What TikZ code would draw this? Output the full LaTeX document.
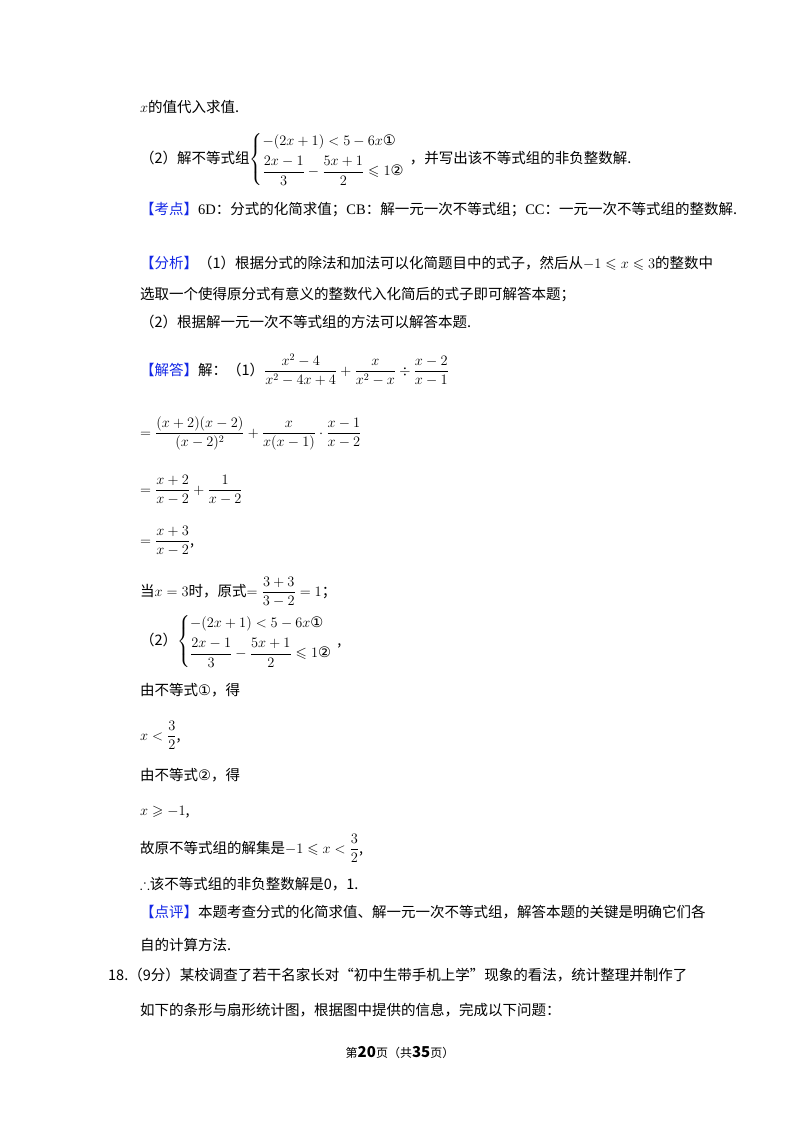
\documentclass[tikz,border=0pt]{standalone}
\usepackage{amsmath,amssymb}
\usepackage[no-math]{fontspec}
\setmainfont{Noto Sans CJK SC}
\newfontfamily\lat{Liberation Serif}
\newfontfamily\sym{DejaVu Sans}
\definecolor{kblue}{RGB}{20,40,230}
\newcommand\cA{{\sym ①}}
\newcommand\cB{{\sym ②}}
\begin{document}
\begin{tikzpicture}[x=1pt,y=-1pt,
  t/.style={anchor=base west,inner sep=0pt,font=\fontsize{14.5}{17}\selectfont},
  kw/.style={text=kblue}]
\useasboundingbox (0,0) rectangle (800,1132);
\fill[white] (0,0) rectangle (800,1132);
\node[t] (l1) at (140,112) {$x$的值代入求值.};
\node[t] (l2) at (140,163) {（2）解不等式组$\left\{\begin{array}{@{}l}-(2x+1)<5-6x\text{\cA}\\[6pt] \dfrac{2x-1}{3}-\dfrac{5x+1}{2}\leqslant 1\text{\cB}\end{array}\right.$，并写出该不等式组的非负整数解.};
\node[t] (l3) at (140,214) {\textcolor{kblue}{【考点】}{\lat 6D}：分式的化简求值；{\lat CB}：解一元一次不等式组；{\lat CC}：一元一次不等式组的整数解.};
\node[t] (l4) at (140,268) {\textcolor{kblue}{【分析】}（1）根据分式的除法和加法可以化简题目中的式子，然后从$-1\leqslant x\leqslant 3$的整数中};
\node[t] (l5) at (140,299) {选取一个使得原分式有意义的整数代入化简后的式子即可解答本题；};
\node[t] (l6) at (140,327) {（2）根据解一元一次不等式组的方法可以解答本题.};
\node[t] (l7) at (140,375) {\textcolor{kblue}{【解答】}解：（1）$\dfrac{x^2-4}{x^2-4x+4}+\dfrac{x}{x^2-x}\div\dfrac{x-2}{x-1}$};
\node[t] (l8) at (140,437) {$=\dfrac{(x+2)(x-2)}{(x-2)^2}+\dfrac{x}{x(x-1)}\cdot\dfrac{x-1}{x-2}$};
\node[t] (l9) at (140,494) {$=\dfrac{x+2}{x-2}+\dfrac{1}{x-2}$};
\node[t] (l10) at (140,545) {$=\dfrac{x+3}{x-2}$,};
\node[t] (l11) at (140,596) {当$x=3$时，原式$=\dfrac{3+3}{3-2}=1$；};
\node[t] (l12) at (140,645) {（2）$\left\{\begin{array}{@{}l}-(2x+1)<5-6x\text{\cA}\\[6pt] \dfrac{2x-1}{3}-\dfrac{5x+1}{2}\leqslant 1\text{\cB}\end{array}\right.$,};
\node[t] (l13) at (140,695) {由不等式\cA，得};
\node[t] (l14) at (140,740) {$x<\dfrac{3}{2}$,};
\node[t] (l15) at (140,780) {由不等式\cB，得};
\node[t] (l16) at (140,815) {$x\geqslant -1$,};
\node[t] (l17) at (140,853) {故原不等式组的解集是$-1\leqslant x<\dfrac{3}{2}$,};
\node[t] (l18) at (140,889) {$\therefore$该不等式组的非负整数解是0，1.};
\node[t] (l19) at (140,917) {\textcolor{kblue}{【点评】}本题考查分式的化简求值、解一元一次不等式组，解答本题的关键是明确它们各};
\node[t] (l20) at (140,950) {自的计算方法.};
\node[t] (l21) at (108,980) {18.（9分）某校调查了若干名家长对“初中生带手机上学”现象的看法，统计整理并制作了};
\node[t] (l22) at (140,1015) {如下的条形与扇形统计图，根据图中提供的信息，完成以下问题：};
\node[t,anchor=base] (ft) at (400,1057) {\fontsize{12}{14}\selectfont 第\textbf{\fontsize{15}{16}\selectfont 20}页（共\textbf{\fontsize{15}{16}\selectfont 35}页）};
\end{tikzpicture}
\end{document}
